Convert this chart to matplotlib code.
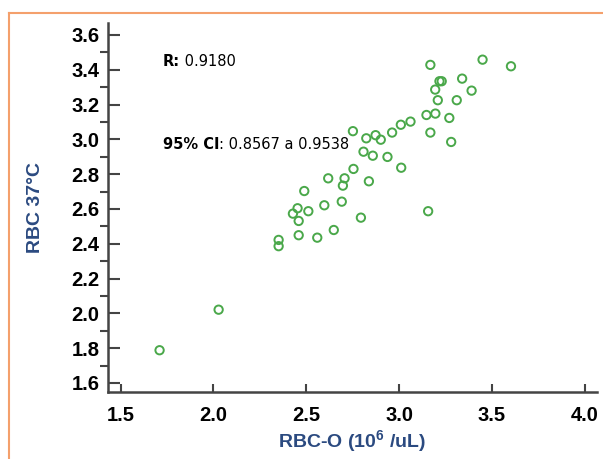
import matplotlib.pyplot as plt
from matplotlib.lines import Line2D

# datos
rbc_o = [3.168, 3.449, 3.602, 3.217, 3.229, 3.339, 3.194, 3.39, 3.208, 3.31,
         3.147, 3.195, 3.27, 3.061, 3.009, 2.962, 3.168, 2.751, 2.873, 2.823,
         2.901, 3.28, 2.808, 2.858, 2.937, 2.754, 3.011, 2.618, 2.706, 2.697,
         2.837, 2.489, 2.597, 2.691, 2.453, 2.428, 2.511, 2.459, 2.794, 3.156,
         2.648, 2.459, 2.559, 2.351, 2.351, 2.028, 1.71]
rbc_37 = [3.428, 3.458, 3.42, 3.334, 3.334, 3.349, 3.286, 3.28, 3.225, 3.225,
          3.14, 3.148, 3.123, 3.102, 3.084, 3.039, 3.039, 3.047, 3.024, 3.006,
          2.998, 2.985, 2.929, 2.906, 2.899, 2.83, 2.837, 2.776, 2.776, 2.734,
          2.759, 2.703, 2.621, 2.642, 2.604, 2.573, 2.587, 2.531, 2.55, 2.587,
          2.479, 2.449, 2.435, 2.422, 2.386, 2.021, 1.788]
xticks = [1.5, 2.0, 2.5, 3.0, 3.5, 4.0]
yticks = [1.6, 1.8, 2.0, 2.2, 2.4, 2.6, 2.8, 3.0, 3.2, 3.4, 3.6]

plt.rcParams['mathtext.fontset'] = 'custom'
plt.rcParams['mathtext.rm'] = 'Liberation Sans:bold'

fig = plt.figure(figsize=(6.03, 4.59), dpi=100)
ax = fig.add_axes([0.179, 0.146, 0.811, 0.804])

ax.scatter(rbc_o, rbc_37, s=36, facecolors='none', edgecolors='#4aa84a', linewidths=1.4)

ax.set_xlim(1.432, 4.065)
ax.set_ylim(1.548, 3.669)
ax.set_xticks(xticks)
ax.set_xticklabels(['%.1f' % v for v in xticks])
ax.set_yticks(yticks)
ax.set_yticklabels(['%.1f' % v for v in yticks])
ax.set_yticks([v + 0.1 for v in yticks[:-1]], minor=True)

for s in ['top', 'right']:
    ax.spines[s].set_visible(False)
for s in ['left', 'bottom']:
    ax.spines[s].set_color('#444444')
    ax.spines[s].set_linewidth(1.8)

ax.tick_params(axis='both', direction='in', colors='#444444', width=1.5, labelcolor='black')
ax.tick_params(axis='x', length=6, pad=10)
ax.tick_params(axis='y', which='major', length=8.5, pad=6)
ax.tick_params(axis='y', which='minor', length=5.5, width=1.5, colors='#444444')
for lab in ax.get_xticklabels() + ax.get_yticklabels():
    lab.set_fontfamily('Liberation Sans')
    lab.set_fontweight('bold')
    lab.set_fontsize(14.5)

ax.set_xlabel('RBC-O (10$\\mathrm{^{6}}$ /uL)', fontsize=14, fontweight='bold',
              color='#2b4a80', family='Liberation Sans', labelpad=2)
ax.set_ylabel('RBC 37°C', fontsize=14, fontweight='bold',
              color='#2b4a80', family='Liberation Sans', labelpad=20)

# textos R y CI (parte en negrita)
t1 = ax.text(1.727, 3.445, 'R:', fontsize=10.5, fontweight='bold', va='center')
ax.annotate(' 0.9180', xy=(1, 0), xycoords=t1, va='bottom', fontsize=10.5)
t2 = ax.text(1.727, 2.968, '95% CI', fontsize=10.5, fontweight='bold', va='center')
ax.annotate(': 0.8567 a 0.9538', xy=(1, 0), xycoords=t2, va='bottom', fontsize=10.5)

# borde naranja
fig.add_artist(Line2D([9 / 603, 9 / 603], [0, 1 - 13 / 459], color='#f4a06c', lw=1.5))
fig.add_artist(Line2D([9 / 603, 1], [1 - 13 / 459, 1 - 13 / 459], color='#f4a06c', lw=1.5))

fig.savefig('out.png', dpi=100)
